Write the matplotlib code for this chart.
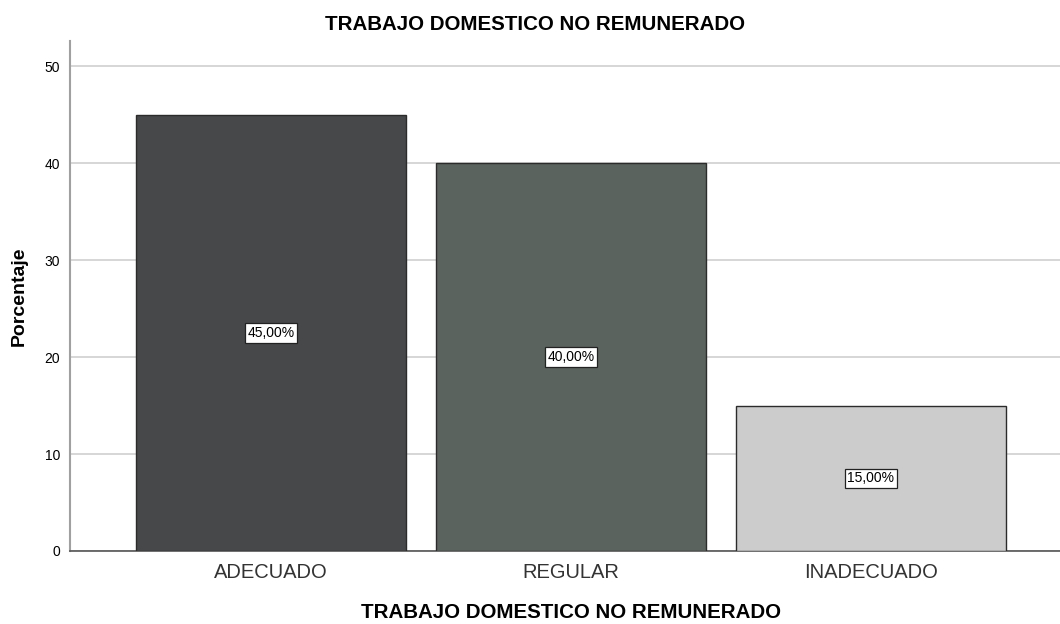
import matplotlib.pyplot as plt

plt.rcParams['font.family'] = ['Liberation Sans', 'DejaVu Sans']

categorias = ['ADECUADO', 'REGULAR', 'INADECUADO']
porcentajes = [45.0, 40.0, 15.0]
etiquetas = ['45,00%', '40,00%', '15,00%']
colores = ['#474849', '#5b635e', '#cccccc']

fig = plt.figure(figsize=(10.6, 6.24), dpi=100)
ax = fig.add_axes((0.066, 0.117, 0.934, 0.817))

x = range(len(categorias))
ax.bar(x, porcentajes, width=0.9, color=colores, edgecolor='#2b2b2b', linewidth=1.0, zorder=3)

for i, v in enumerate(porcentajes):
    ax.text(i, v / 2, etiquetas[i], ha='center', va='center', fontsize=10, color='black', zorder=4,
            bbox=dict(boxstyle='square,pad=0.2', facecolor='white', edgecolor='#222222', linewidth=0.9))

ax.set_xlim(-0.67, 2.63)
ax.set_ylim(0, 52.6)
ax.set_yticks([0, 10, 20, 30, 40, 50])
ax.set_xticks(list(x))
ax.set_xticklabels(categorias, fontsize=14.5, color='#333333')
ax.tick_params(axis='y', length=0, labelsize=10, pad=7)
ax.tick_params(axis='x', length=0, pad=9)
ax.yaxis.grid(True, color='#d0d0d0', linewidth=1.2, zorder=0)
ax.set_axisbelow(True)

for s in ['top', 'right']:
    ax.spines[s].set_visible(False)
ax.spines['left'].set_color('#a0a0a0')
ax.spines['left'].set_linewidth(1.5)
ax.spines['bottom'].set_color('#555555')
ax.spines['bottom'].set_linewidth(1.2)

ax.set_ylabel('Porcentaje', fontsize=14, fontweight='bold', labelpad=12)
ax.set_xlabel('TRABAJO DOMESTICO NO REMUNERADO', fontsize=14.8, fontweight='bold', va='center')
ax.xaxis.set_label_coords(0.5065, -0.12)
fig.text(0.505, 0.9615, 'TRABAJO DOMESTICO NO REMUNERADO', ha='center', va='center', fontsize=14.8, fontweight='bold')

fig.savefig('out.png', dpi=100)
